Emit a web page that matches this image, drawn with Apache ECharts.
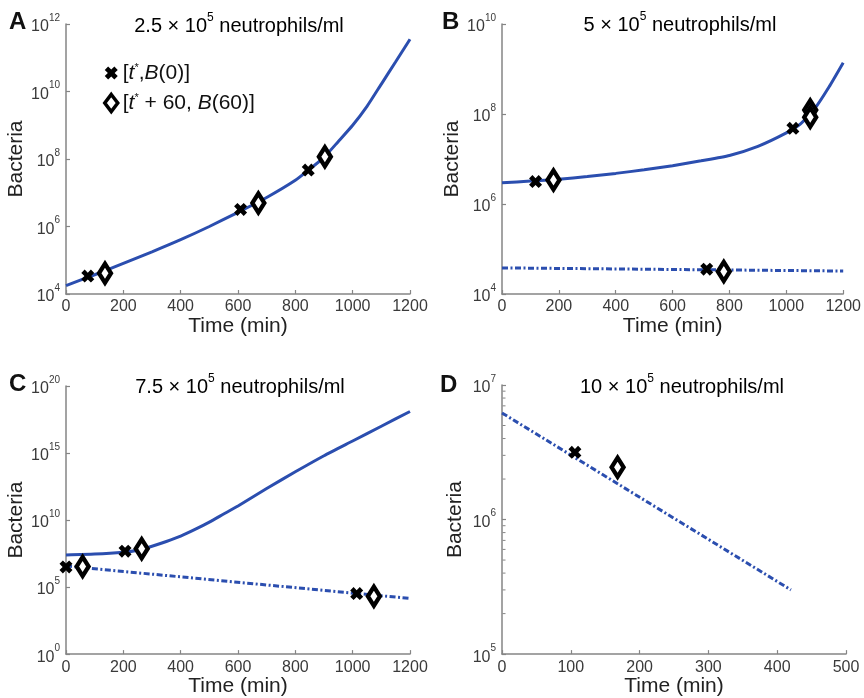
<!DOCTYPE html>
<html>
<head>
<meta charset="utf-8">
<script src="https://cdn.jsdelivr.net/npm/echarts@6/dist/echarts.min.js"></script>
<style>html,body{margin:0;padding:0;background:#fff;}#c{width:864px;height:698px;}</style>
</head>
<body>
<div id="c"></div>
<script>
// ---------- DATA ----------
// Panel A (2.5 x 10^5 neutrophils/ml)
const timeA = [0, 100, 200, 300, 400, 500, 600, 700, 800, 850, 900, 950, 1000, 1050, 1100, 1150, 1200];
const bactA = [1.78e4, 3.72e4, 8.13e4, 1.78e5, 4.07e5, 1.0e6, 2.63e6, 7.24e6, 2.34e7, 5.01e7, 1.12e8, 3.31e8, 1.0e9, 3.63e9, 1.66e10, 7.59e10, 3.55e11];
const crossA_t = [76, 609, 845];
const crossA_b = [3.4e4, 3.2e6, 4.7e7];
const diamA_t = [136, 671, 903];
const diamA_b = [4.1e4, 5.0e6, 1.17e8];

// Panel B (5 x 10^5 neutrophils/ml)
const timeB = [0, 100, 200, 300, 400, 500, 600, 700, 800, 900, 1000, 1050, 1100, 1150, 1200];
const bactB = [2.95e6, 3.24e6, 3.55e6, 4.07e6, 4.79e6, 5.75e6, 7.08e6, 9.12e6, 1.2e7, 1.91e7, 3.8e7, 6.03e7, 1.32e8, 3.98e8, 1.38e9];
const timeB2 = [0, 1200];
const bactB2 = [3.8e4, 3.24e4];
const crossB_t = [118, 1023, 720];
const crossB_b = [3.16e6, 4.8e7, 3.55e4];
const diamB_t = [181, 1084, 1084, 780];
const diamB_b = [3.4e6, 1.23e8, 8.5e7, 3.16e4];

// Panel C (7.5 x 10^5 neutrophils/ml)
const timeC = [0, 100, 200, 250, 300, 350, 400, 450, 500, 550, 600, 700, 800, 900, 1000, 1100, 1200];
const bactC = [2.51e7, 2.88e7, 3.98e7, 5.62e7, 1.12e8, 2.51e8, 6.31e8, 2.0e9, 7.08e9, 2.82e10, 1.12e11, 2.24e12, 3.98e13, 6.31e14, 7.94e15, 1e17, 1.26e18];
const timeC2 = [0, 1200];
const bactC2 = [3.7e6, 1.41e4];
const crossC_t = [0, 206, 1014];
const crossC_b = [3.16e6, 4.8e7, 3.3e4];
const diamC_t = [58, 264, 1074];
const diamC_b = [3.47e6, 7.1e7, 2.1e4];

// Panel D (10 x 10^5 neutrophils/ml)
const timeD = [0, 420];
const bactD = [6.2e6, 3.0e5];
const crossD_t = [106];
const crossD_b = [3.16e6];
const diamD_t = [168];
const diamD_b = [2.45e6];
const minorTicksD = [2e5, 3e5, 4e5, 5e5, 6e5, 7e5, 8e5, 9e5, 2e6, 3e6, 4e6, 5e6, 6e6, 7e6, 8e6, 9e6];

const titles = [
  ['2.5 × 10', '5', ' neutrophils/ml'],
  ['5 × 10', '5', ' neutrophils/ml'],
  ['7.5 × 10', '5', ' neutrophils/ml'],
  ['10 × 10', '5', ' neutrophils/ml']
];
const letters = ['A', 'B', 'C', 'D'];

// ---------- CHART ----------
const FONT = '"Liberation Sans", Arial, Helvetica, sans-serif';
const BLUE = '#2b4eaf';
const AX = '#858585';
const XPATH = 'path://M0,2.6 L2.6,0 L5,2.4 L7.4,0 L10,2.6 L7.6,5 L10,7.4 L7.4,10 L5,7.6 L2.6,10 L0,7.4 L2.4,5 Z';

function pairs(t, b) { return t.map((v, i) => [v, b[i]]); }

const grids = [
  {left: 66, top: 24, width: 344, height: 270},
  {left: 502, top: 24, width: 345, height: 270},
  {left: 66, top: 386, width: 344, height: 270},
  {left: 502, top: 385, width: 344, height: 270}
];

const xRanges = [[0, 1200, 200], [0, 1200, 200], [0, 1200, 200], [0, 500, 100]];
const yRanges = [[1e4, 1e12, 2], [1e4, 1e10, 2], [1, 1e20, 5], [1e5, 1e7, 1]];

const tickRich = {
  b: {fontSize: 16, color: '#3a3a3a', fontFamily: FONT, verticalAlign: 'bottom', lineHeight: 22},
  s: {fontSize: 10, color: '#3a3a3a', fontFamily: FONT, verticalAlign: 'top', lineHeight: 22}
};

const xAxes = xRanges.map((r, i) => ({
  gridIndex: i, type: 'value', min: r[0], max: r[1], interval: r[2],
  name: 'Time (min)', nameLocation: 'middle', nameGap: 17,
  nameTextStyle: {fontSize: 21, color: '#222', fontFamily: FONT},
  axisLine: {lineStyle: {color: AX, width: 1.5}},
  axisTick: {inside: true, length: 4, lineStyle: {color: AX, width: 1.2}},
  axisLabel: {fontSize: 16, color: '#3a3a3a', fontFamily: FONT, margin: 5,
    formatter: function (v) { return String(v); }},
  splitLine: {show: false}
}));

const yAxes = yRanges.map((r, i) => ({
  gridIndex: i, type: 'log', logBase: 10, min: r[0], max: r[1], interval: r[2],
  name: 'Bacteria', nameLocation: 'middle', nameGap: 36,
  nameTextStyle: {fontSize: 21, color: '#222', fontFamily: FONT},
  axisLine: {show: true, lineStyle: {color: AX, width: 1.5}},
  axisTick: {inside: true, length: 4, lineStyle: {color: AX, width: 1.2}},
  axisLabel: {
    margin: 6,
    formatter: function (v) { return '{b|10}{s|' + Math.round(Math.log10(v)) + '}'; },
    rich: tickRich
  },
  splitLine: {show: false}
}));

function lineSeries(idx, t, b, dashed) {
  return {
    type: 'line', xAxisIndex: idx, yAxisIndex: idx, data: pairs(t, b),
    showSymbol: false, smooth: dashed ? false : 0.2, silent: true,
    lineStyle: {color: BLUE, width: 3, type: dashed ? [6, 2.5, 2, 2.5] : 'solid'},
    z: 2
  };
}
function crossSeries(idx, t, b, name) {
  return {
    name: name, type: 'scatter', xAxisIndex: idx, yAxisIndex: idx, data: pairs(t, b),
    symbol: XPATH, symbolSize: 13, itemStyle: {color: '#000', opacity: 1}, z: 5
  };
}
function diamSeries(idx, t, b, name) {
  return {
    name: name, type: 'scatter', xAxisIndex: idx, yAxisIndex: idx, data: pairs(t, b),
    symbol: 'diamond', symbolSize: [12, 19],
    itemStyle: {color: '#ffffff', borderColor: '#000', borderWidth: 4.5, opacity: 1}, z: 6
  };
}

const LEG1 = '[t*,B(0)]';
const LEG2 = '[t* + 60, B(60)]';

const series = [
  lineSeries(0, timeA, bactA, false),
  crossSeries(0, crossA_t, crossA_b, LEG1),
  diamSeries(0, diamA_t, diamA_b, LEG2),
  lineSeries(1, timeB, bactB, false),
  lineSeries(1, timeB2, bactB2, true),
  crossSeries(1, crossB_t, crossB_b, 'xB'),
  diamSeries(1, diamB_t, diamB_b, 'dB'),
  lineSeries(2, timeC, bactC, false),
  lineSeries(2, timeC2, bactC2, true),
  crossSeries(2, crossC_t, crossC_b, 'xC'),
  diamSeries(2, diamC_t, diamC_b, 'dC'),
  lineSeries(3, timeD, bactD, true),
  crossSeries(3, crossD_t, crossD_b, 'xD'),
  diamSeries(3, diamD_t, diamD_b, 'dD'),
  {
    type: 'scatter', xAxisIndex: 3, yAxisIndex: 3, silent: true,
    data: minorTicksD.map(v => [0, v]),
    symbol: 'rect', symbolSize: [3, 1], symbolOffset: [2, 0],
    itemStyle: {color: AX, opacity: 1}, z: 1
  }
];

const titleRich = {
  n: {fontSize: 20, color: '#222', fontFamily: FONT, verticalAlign: 'bottom', lineHeight: 24},
  s: {fontSize: 12, color: '#222', fontFamily: FONT, verticalAlign: 'top', lineHeight: 24}
};
const titlePos = [[239, 24], [680, 23], [240, 385], [682, 385]];
const letterPos = [[9, 22], [442, 22], [9, 384], [440, 385]];

const graphics = [];
titles.forEach((t, i) => {
  graphics.push({
    type: 'text', x: titlePos[i][0], y: titlePos[i][1], silent: true,
    style: {
      text: '{n|' + t[0] + '}{s|' + t[1] + '}{n|' + t[2] + '}',
      rich: titleRich, align: 'center', verticalAlign: 'middle'
    }
  });
  graphics.push({
    type: 'text', x: letterPos[i][0], y: letterPos[i][1], silent: true,
    style: {
      text: letters[i], fill: '#111', fontSize: 24, fontWeight: 'bold', fontFamily: FONT,
      align: 'left', verticalAlign: 'middle'
    }
  });
});

const legendRich = {
  n: {fontSize: 21, color: '#111', fontFamily: FONT, verticalAlign: 'bottom', lineHeight: 22},
  i: {fontSize: 21, color: '#111', fontFamily: FONT, fontStyle: 'italic', verticalAlign: 'bottom', lineHeight: 22},
  s: {fontSize: 11, color: '#111', fontFamily: FONT, verticalAlign: 'top', lineHeight: 22}
};

const option = {
  backgroundColor: '#ffffff',
  animation: false,
  grid: grids,
  xAxis: xAxes,
  yAxis: yAxes,
  series: series,
  graphic: graphics,
  legend: {
    data: [
      {name: LEG1, itemStyle: {color: '#000', opacity: 1}},
      {name: LEG2, itemStyle: {color: '#fff', borderColor: '#000', borderWidth: 3.5, opacity: 1}}
    ],
    orient: 'vertical', left: 98, top: 57,
    itemWidth: 13, itemHeight: 17, itemGap: 8, selectedMode: false,
    textStyle: {rich: legendRich},
    formatter: function (name) {
      if (name === LEG1) return '{n|[}{i|t}{s|*}{n|,}{i|B}{n|(0)]}';
      return '{n|[}{i|t}{s|*}{n| + 60, }{i|B}{n|(60)]}';
    }
  }
};

const chart = echarts.init(document.getElementById('c'), null, {renderer: 'canvas'});
chart.setOption(option);
</script>
</body>
</html>
